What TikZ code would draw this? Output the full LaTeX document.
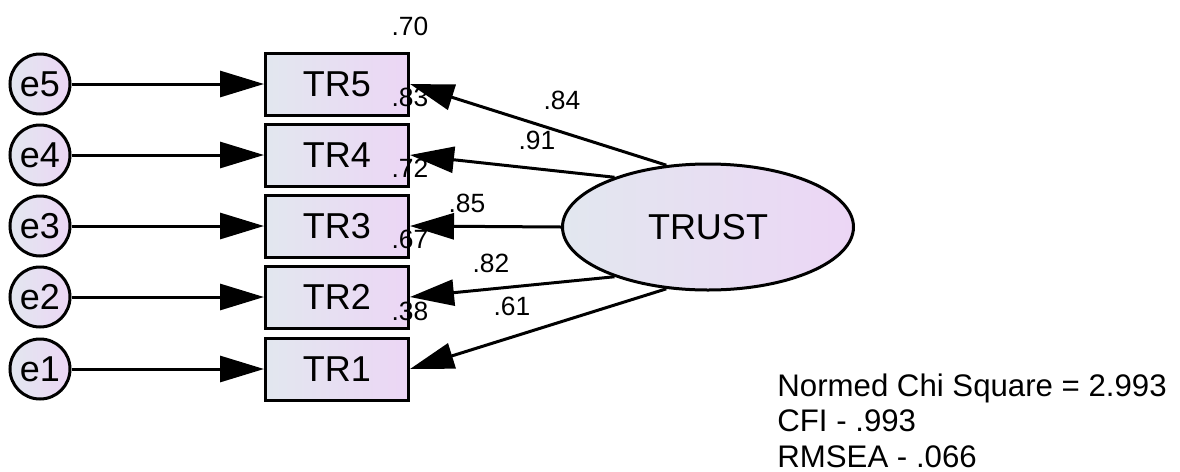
\documentclass[tikz,border=0pt]{standalone}
\usepackage{fontspec}
\setmainfont{Liberation Sans}
\usepackage{xcolor}
\usepackage{tikz}
\usetikzlibrary{arrows.meta,positioning,shapes.geometric,calc}
\definecolor{semGrey}{RGB}{226,231,239}
\definecolor{semLilac}{RGB}{236,214,245}

\begin{document}
\begin{tikzpicture}[
x=0.5pt, y=-0.5pt,
obs/.style={draw, line width=1.5pt, left color=semGrey, right color=semLilac, minimum width=71.5pt, minimum height=31pt, inner sep=0pt, font=\fontsize{18}{21}\selectfont},
err/.style={circle, draw, line width=1.5pt, left color=semGrey, right color=semLilac, minimum size=30pt, inner sep=0pt, font=\fontsize{18}{21}\selectfont},
latent/.style={ellipse, draw, line width=1.5pt, left color=semGrey, right color=semLilac, minimum width=145.5pt, minimum height=63pt, inner sep=0pt, font=\fontsize{18}{21}\selectfont},
coef/.style={inner sep=1pt, font=\fontsize{13.2}{15}\selectfont},
arrow/.style={-{Triangle[length=22pt, width=13pt]}, line width=1.5pt}
]
\useasboundingbox (0,0) rectangle (1180,472);

% error terms and indicators
\node[err] (e5) at (40,84) {e5};
\node[obs] (tr5) at (337,84) {TR5};
\draw[arrow] (e5) -- (tr5);

\node[err] (e4) at (40,155) {e4};
\node[obs] (tr4) at (337,155) {TR4};
\draw[arrow] (e4) -- (tr4);

\node[err] (e3) at (40,226) {e3};
\node[obs] (tr3) at (337,226) {TR3};
\draw[arrow] (e3) -- (tr3);

\node[err] (e2) at (40,297) {e2};
\node[obs] (tr2) at (337,297) {TR2};
\draw[arrow] (e2) -- (tr2);

\node[err] (e1) at (40,369) {e1};
\node[obs] (tr1) at (337,369) {TR1};
\draw[arrow] (e1) -- (tr1);

% latent factor and loadings
\node[latent] (trust) at (708,227) {TRUST};
\draw[arrow] (trust.124) -- (tr5.east);
\draw[arrow] (trust.152) -- (tr4.east);
\draw[arrow] (trust.180) -- (tr3.east);
\draw[arrow] (trust.208) -- (tr2.east);
\draw[arrow] (trust.236) -- (tr1.east);

\node[coef] (l5) at (562,100) {.84};
\node[coef] (l4) at (537,140) {.91};
\node[coef] (l3) at (467,203) {.85};
\node[coef] (l2) at (491,263) {.82};
\node[coef] (l1) at (512,306) {.61};

% squared multiple correlations
\node[coef] (r5) at ([yshift=12.5pt]tr5.north east) {.70};
\node[coef] (r4) at ([yshift=12.5pt]tr4.north east) {.83};
\node[coef] (r3) at ([yshift=12.5pt]tr3.north east) {.72};
\node[coef] (r2) at ([yshift=12.5pt]tr2.north east) {.67};
\node[coef] (r1) at ([yshift=12.5pt]tr1.north east) {.38};

% fit indices
\node[anchor=north west, inner sep=0pt, align=left, font=\fontsize{15.6}{17.75}\selectfont] (fit) at (777,373) {Normed Chi Square = 2.993\\CFI - .993\\RMSEA - .066};
\end{tikzpicture}
\end{document}
